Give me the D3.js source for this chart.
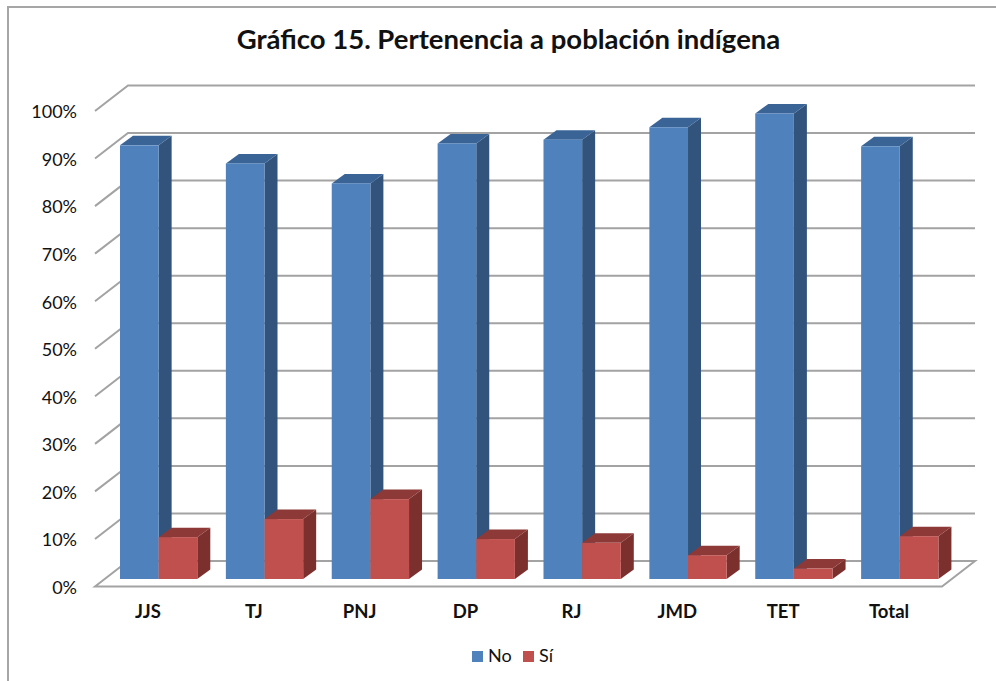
<!DOCTYPE html>
<html>
<head>
<meta charset="utf-8">
<script src="https://cdn.jsdelivr.net/npm/d3@7"></script>
<style>
  html, body { margin: 0; padding: 0; background: #fff; }
  svg { display: block; }
  text { font-family: Lato, "Open Sans", sans-serif; fill: #111; }
</style>
</head>
<body>
<svg width="996" height="681"></svg>
<script>
const categories = ['JJS', 'TJ', 'PNJ', 'DP', 'RJ', 'JMD', 'TET', 'Total']
const noValues = [0.912, 0.874, 0.832, 0.916, 0.924, 0.95, 0.979, 0.91]
const siValues = [0.088, 0.126, 0.168, 0.084, 0.076, 0.05, 0.022, 0.09]
const yTicks = [0, 0.1, 0.2, 0.3, 0.4, 0.5, 0.6, 0.7, 0.8, 0.9, 1]

const svg = d3.select('svg'),
width = +svg.attr('width'),
height = +svg.attr('height')

// floor corners of the fake 3d box
const depthX = 33, depthY = 25.5
const left = 95, right = 942, floorY = 586.5, topY = 111
// bars stand part way into the box
const barDepthX = 13, barDepthY = 9.5
const barShiftX = 10.7, barShiftY = 7.5

const x = d3.scaleBand().domain(categories).range([left, right]).paddingInner(0.27).paddingOuter(0.135)
const y = d3.scaleLinear().domain([0, 1]).range([floorY, topY])
const series = d3.scaleBand().domain(['No', 'Sí']).range([0, x.bandwidth()])

const gridColour = '#a3a3a3'
const seriesInfo = [
  { name: 'No', values: noValues, front: '#4f81bd', side: '#31537c', top: '#3b6496' },
  { name: 'Sí', values: siValues, front: '#c0504d', side: '#7b302e', top: '#8c3937' }
]

// chart frame, only left and top show in the picture
svg.append('path')
  .attr('d', `M8,${height}V7H${width}`)
  .attr('fill', 'none')
  .attr('stroke', '#a6a6a6')
  .attr('stroke-width', 2)

svg.append('text')
  .attr('x', 508.5)
  .attr('y', 49)
  .attr('text-anchor', 'middle')
  .style('font-size', '27.5px')
  .style('font-weight', 700)
  .text('Gráfico 15. Pertenencia a población indígena')

// gridlines on the back wall and the side wall
const grid = svg.append('g').attr('class', 'grid')
grid.selectAll('path')
  .data(yTicks)
  .enter()
  .append('path')
  .attr('d', d => d === 0
    ? `M${left},${y(0)}L${left + depthX},${y(0) - depthY}H${right + depthX}L${right},${y(0)}Z`
    : `M${left},${y(d)}L${left + depthX},${y(d) - depthY}H${right + depthX}`)
  .attr('fill', 'none')
  .attr('stroke', gridColour)
  .attr('stroke-width', 2)

const yAxis = svg.append('g')
  .attr('transform', `translate(${left},0)`)
  .call(d3.axisLeft(y).tickValues(yTicks).tickFormat(d3.format('.0%')).tickSize(0).tickPadding(18))
yAxis.select('.domain').remove()
yAxis.selectAll('text').style('font-size', '18px').style('font-family', 'Lato, sans-serif').attr('dy', '0.38em')

const xAxis = svg.append('g')
  .attr('transform', `translate(0,${floorY})`)
  .call(d3.axisBottom(x).tickSize(0).tickPadding(18))
xAxis.select('.domain').remove()
xAxis.selectAll('text').style('font-size', '18.5px').style('font-weight', 700).style('font-family', 'Lato, sans-serif')

// every bar is front face, side face and top face
seriesInfo.forEach(s => {
  const rows = categories.map((c, i) => ({ cat: c, value: s.values[i] }))
  const bar = svg.append('g')
    .attr('class', 'bars-' + s.name)
    .selectAll('g')
    .data(rows)
    .enter()
    .append('g')
    .attr('transform', d => `translate(${x(d.cat) + series(s.name) + barShiftX},${-barShiftY})`)

  const w = series.bandwidth()

  bar.append('path')
    .attr('d', d => `M${w},${y(d.value)}l${barDepthX},${-barDepthY}V${y(0) - barDepthY}l${-barDepthX},${barDepthY}Z`)
    .attr('fill', s.side)

  bar.append('path')
    .attr('d', d => `M0,${y(d.value)}l${barDepthX},${-barDepthY}h${w}l${-barDepthX},${barDepthY}Z`)
    .attr('fill', s.top)

  bar.append('rect')
    .attr('x', 0)
    .attr('y', d => y(d.value))
    .attr('width', w)
    .attr('height', d => y(0) - y(d.value))
    .attr('fill', s.front)
})

// legend
const legend = svg.append('g').attr('class', 'legend')
const legendX = [472, 523]
seriesInfo.forEach((s, i) => {
  legend.append('rect')
    .attr('x', legendX[i])
    .attr('y', 651)
    .attr('width', 11)
    .attr('height', 11)
    .attr('fill', s.front)
  legend.append('text')
    .attr('x', legendX[i] + 16)
    .attr('y', 662)
    .style('font-size', '18px')
    .text(s.name)
})
</script>
</body>
</html>
